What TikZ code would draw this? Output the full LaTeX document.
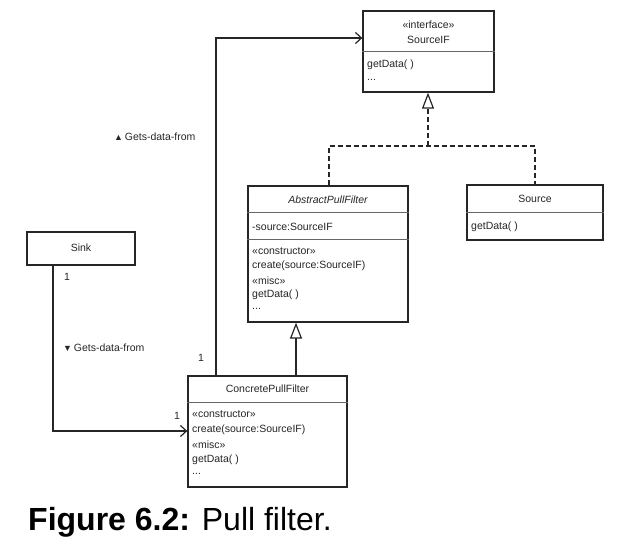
\documentclass[tikz,border=0pt]{standalone}
\usepackage{fontspec}
\setmainfont{Liberation Sans}
\usetikzlibrary{arrows.meta,calc}
\begin{document}
\begin{tikzpicture}[x=1pt,y=-1pt,
  box/.style={draw=black!85,line width=1.3pt,inner sep=0pt,fill=white},
  div/.style={draw=black!60,line width=1.2pt},
  txt/.style={font=\fontsize{10.5}{12}\selectfont,inner sep=0pt,text=black!85},
  lt/.style={txt,anchor=west},
  conn/.style={draw=black!85,line width=1.3pt},
  assoc/.style={conn,-{Straight Barb[length=6pt,width=11pt,line width=1.2pt]}},
  gen/.style={conn,-{Triangle[open,length=16pt,width=12pt,fill=white,line width=1.2pt]}},
  real/.style={conn,dash pattern=on 5pt off 3pt,line width=1.6pt}]
\useasboundingbox (0,0) rectangle (618,558);

% SourceIF
\node[box,minimum width=131pt,minimum height=81pt] (srcif) at (428.5,51.5) {};
\draw[div] ($(srcif.north west)+(0,41)$) -- ($(srcif.north east)+(0,41)$);
\node[txt] (srcifst) at (428.5,25) {«interface»};
\node[txt] (srcifn) at (428.5,40) {SourceIF};
\node[lt] (srcifm1) at (367,65) {getData( )};
\node[lt] (srcifm2) at (367,80) {...};

% AbstractPullFilter
\node[box,minimum width=160pt,minimum height=136pt] (apf) at (328,254) {};
\draw[div] ($(apf.north west)+(0,27)$) -- ($(apf.north east)+(0,27)$);
\draw[div] ($(apf.north west)+(0,54)$) -- ($(apf.north east)+(0,54)$);
\node[txt,font=\fontsize{10.5}{12}\selectfont\itshape] (apfn) at (328,200) {AbstractPullFilter};
\node[lt] (apfa) at (252,227) {-source:SourceIF};
\node[lt] (apf1) at (252,251) {«constructor»};
\node[lt] (apf2) at (252,266) {create(source:SourceIF)};
\node[lt] (apf3) at (252,281) {«misc»};
\node[lt] (apf4) at (252,295) {getData( )};
\node[lt] (apf5) at (252,309) {...};

% Source
\node[box,minimum width=136pt,minimum height=55pt] (src) at (535,212.5) {};
\draw[div] ($(src.north west)+(0,28)$) -- ($(src.north east)+(0,28)$);
\node[txt] (srcn) at (535,199) {Source};
\node[lt] (srcm) at (471,227) {getData( )};

% ConcretePullFilter
\node[box,minimum width=159pt,minimum height=111pt] (cpf) at (267.5,431.5) {};
\draw[div] ($(cpf.north west)+(0,27)$) -- ($(cpf.north east)+(0,27)$);
\node[txt] (cpfn) at (267.5,389) {ConcretePullFilter};
\node[lt] (cpf1) at (192,414) {«constructor»};
\node[lt] (cpf2) at (192,430) {create(source:SourceIF)};
\node[lt] (cpf3) at (192,445) {«misc»};
\node[lt] (cpf4) at (192,460) {getData( )};
\node[lt] (cpf5) at (192,474) {...};

% Sink
\node[box,minimum width=108pt,minimum height=33pt] (sink) at (81,248.5) {};
\node[txt] (sinkn) at (81,248) {Sink};

% connectors
\coordinate (k1) at (53,431);
\draw[assoc] (sink.south -| k1) -- (k1) -- (cpf.west |- k1);
\coordinate (k2) at (216,38);
\draw[assoc] (cpf.north -| k2) -- (k2) -- (srcif.west |- k2);
\coordinate (g1) at (296,0);
\draw[gen] (cpf.north -| g1) -- (apf.south -| g1);
\coordinate (d1) at (329,146);
\coordinate (d2) at (535,146);
\coordinate (d3) at (428,146);
\draw[real] (apf.north -| d1) -- (d1) -- (d2) -- (src.north -| d2);
\draw[real,-{Triangle[open,length=16pt,width=12pt,fill=white,line width=1.2pt]}] (d3) -- (srcif.south -| d3);

% labels
\node[txt] (m1) at (67,277) {1};
\node[txt] (m2) at (177,416) {1};
\node[txt] (m3) at (201,358) {1};
\node[lt] (l1) at (63,348) {{\fontsize{9}{10}\selectfont ▼}\,Gets-data-from};
\node[lt] (l2) at (114,137) {{\fontsize{9}{10}\selectfont ▲}\,Gets-data-from};

% caption
\node[anchor=base west,inner sep=0pt,font=\fontsize{32}{36}\selectfont] (cap) at (28,530) {\textbf{Figure 6.2:} Pull filter.};
\end{tikzpicture}
\end{document}
